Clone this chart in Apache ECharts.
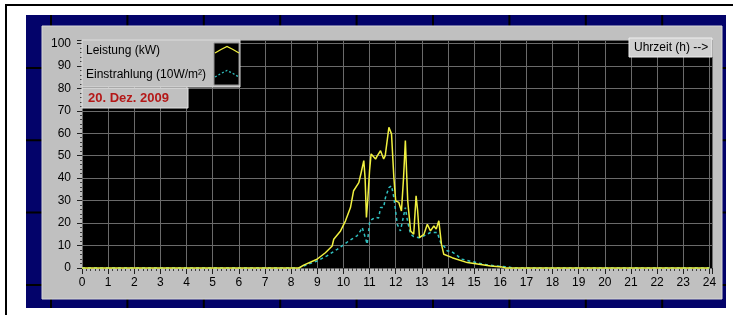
<!DOCTYPE html>
<html>
<head>
<meta charset="utf-8">
<script src="https://cdn.jsdelivr.net/npm/echarts@6/dist/echarts.min.js"></script>
<style>
  html, body { margin: 0; padding: 0; background: #fff; }
  #chart { width: 736px; height: 315px; }
</style>
</head>
<body>
<div id="chart"></div>
<script>
// Leistung (kW)
const leistungZeit = [0, 8.3, 8.48, 8.99, 9.31, 9.57, 9.63, 9.89, 10.08, 10.27, 10.39, 10.59, 10.68, 10.78, 10.83, 10.88, 10.93, 11.0, 11.06, 11.23, 11.3, 11.42, 11.54, 11.6, 11.74, 11.84, 11.93, 12.0, 12.12, 12.22, 12.3, 12.37, 12.46, 12.57, 12.69, 12.78, 12.84, 12.91, 13.08, 13.21, 13.33, 13.46, 13.55, 13.65, 13.75, 13.84, 13.9, 14.16, 14.23, 14.74, 15.25, 15.63, 16.08, 16.2, 24]
const leistungWerte = [0, 0, 1.3, 3.9, 6.8, 9.8, 12.8, 16.5, 21, 26.9, 34.4, 38, 42.5, 47.8, 40, 22.5, 30, 43.3, 50.8, 48.5, 50, 52.2, 48.5, 50, 62.6, 59.7, 40.3, 29.9, 29.2, 25.4, 40, 56.7, 29.9, 16.5, 15, 32.1, 25.4, 13.5, 15, 19.5, 16.5, 18.7, 17.3, 21, 10.6, 6.1, 5.5, 4.6, 3.9, 2.4, 1.6, 0.9, 0.4, 0, 0]

// Einstrahlung (10W/m²)
const einstrahlungZeit = [0, 8.3, 8.5, 8.99, 9.37, 9.76, 10.2, 10.52, 10.65, 10.72, 10.8, 10.91, 11.01, 11.1, 11.23, 11.35, 11.42, 11.54, 11.61, 11.74, 11.84, 11.93, 12.06, 12.18, 12.25, 12.37, 12.45, 12.57, 12.69, 12.89, 13.08, 13.33, 13.59, 13.72, 13.9, 13.97, 14.1, 14.36, 14.5, 14.87, 15.38, 15.82, 16.33, 16.5, 24]
const einstrahlungWerte = [0, 0, 1, 3.1, 5.4, 8.3, 12, 14.3, 16.5, 18, 15, 10.6, 21, 21.7, 22.5, 22.3, 26.9, 27, 31.4, 35.8, 36.6, 31.4, 19.5, 16.5, 16, 26.9, 21, 15, 14, 13.5, 14.3, 15.8, 15.8, 11.3, 9, 7.6, 7.6, 5.5, 4, 3, 1.6, 0.9, 0.4, 0, 0]

const serienNamen = ['Leistung (kW)', 'Einstrahlung (10W/m²)']
const datumText = '20. Dez. 2009'
const achsenText = 'Uhrzeit (h) -->'

// Layout
const plotLeft = 82, plotTop = 40, plotRight = 712, plotBottom = 268
const W = 736, H = 315
const font = 'Liberation Sans'

const chartDom = document.getElementById('chart')
const chart = echarts.init(chartDom)

// dunkle Linien im blauen Rahmen
const rahmenLinien = []
for (let i = 0; i < 9; i++) {
  const x = 51 + i * 76.4
  rahmenLinien.push({ type: 'line', z: -9, shape: { x1: x, y1: 15, x2: x, y2: 308 }, style: { stroke: '#000', lineWidth: 2 } })
}
for (let i = 0; i < 4; i++) {
  const y = 68 + i * 72.3
  rahmenLinien.push({ type: 'line', z: -9, shape: { x1: 26, y1: y, x2: 726, y2: y }, style: { stroke: '#000', lineWidth: 2 } })
}

const option = {
  animation: false,
  backgroundColor: '#fff',
  grid: {
    left: plotLeft,
    top: plotTop,
    right: W - plotRight,
    bottom: H - plotBottom
  },
  xAxis: {
    type: 'value',
    min: 0,
    max: 24.1,
    interval: 1,
    axisLine: { show: false },
    axisTick: { show: true, length: 6, lineStyle: { color: '#202020' } },
    minorTick: { show: true, splitNumber: 6, length: 3, lineStyle: { color: '#404040' } },
    axisLabel: {
      color: '#000', fontFamily: font, fontSize: 12, margin: 9,
      formatter: v => (v <= 24 ? String(v) : '')
    },
    splitLine: { show: true, lineStyle: { color: '#6a6a6a', width: 1 } }
  },
  yAxis: {
    type: 'value',
    min: 0,
    max: 101.5,
    interval: 10,
    offset: 4,
    axisLine: { show: false },
    axisTick: { show: true, length: 5, lineStyle: { color: '#202020' } },
    minorTick: { show: true, splitNumber: 5, length: 2, lineStyle: { color: '#404040' } },
    axisLabel: { color: '#000', fontFamily: font, fontSize: 12, margin: 7 },
    splitLine: { show: true, lineStyle: { color: '#6a6a6a', width: 1 } }
  },
  graphic: [
    // Seite
    { type: 'line', z: -10, shape: { x1: 5, y1: 5, x2: 733, y2: 5 }, style: { stroke: '#000', lineWidth: 2 } },
    { type: 'line', z: -10, shape: { x1: 6, y1: 5, x2: 6, y2: H }, style: { stroke: '#000', lineWidth: 2 } },
    { type: 'rect', z: -10, shape: { x: 26, y: 15, width: 700, height: 293 }, style: { fill: '#03036a' } },
    ...rahmenLinien,
    { type: 'rect', z: -8, shape: { x: 42, y: 26, width: 680, height: 273 }, style: { fill: '#c0c0c0', stroke: '#d8d8d8', lineWidth: 1 } },
    { type: 'rect', z: -7, shape: { x: plotLeft, y: plotTop, width: plotRight - plotLeft, height: plotBottom - plotTop }, style: { fill: '#000' } },

    // Legende
    { type: 'rect', z: 10, shape: { x: 82, y: 40, width: 158, height: 47 }, style: { fill: '#c0c0c0', stroke: '#dcdcdc', lineWidth: 1 } },
    { type: 'text', z: 11, style: { x: 86, y: 51, text: serienNamen[0], fill: '#000', font: '12px ' + font, textVerticalAlign: 'middle' } },
    { type: 'text', z: 11, style: { x: 86, y: 75, text: serienNamen[1], fill: '#000', font: '12px ' + font, textVerticalAlign: 'middle' } },
    { type: 'rect', z: 11, shape: { x: 214, y: 43, width: 25, height: 42 }, style: { fill: '#000', stroke: '#909090', lineWidth: 1 } },
    { type: 'polyline', z: 12, shape: { points: [[215, 53], [221, 49.5], [227, 46.5], [233, 49.5], [239, 53]] }, style: { stroke: '#f0f040', lineWidth: 1.3, fill: null } },
    { type: 'polyline', z: 12, shape: { points: [[215, 77], [221, 73.5], [227, 70.5], [233, 73.5], [239, 77]] }, style: { stroke: '#30c0c0', lineWidth: 1.3, lineDash: [2, 2], fill: null } },

    // Datum
    { type: 'rect', z: 10, shape: { x: 82, y: 88, width: 106, height: 20 }, style: { fill: '#c0c0c0', stroke: '#e4e4e4', lineWidth: 1 } },
    { type: 'text', z: 11, style: { x: 88, y: 98, text: datumText, fill: '#b41818', font: 'bold 13px ' + font, textVerticalAlign: 'middle' } },

    // Uhrzeit
    { type: 'rect', z: 10, shape: { x: 629, y: 38, width: 83, height: 19 }, style: { fill: '#d0d0d0', stroke: '#eeeeee', lineWidth: 1 } },
    { type: 'text', z: 11, style: { x: 634, y: 48, text: achsenText, fill: '#000', font: '12px ' + font, textVerticalAlign: 'middle' } }
  ],
  series: [
    {
      name: serienNamen[1],
      type: 'line',
      data: einstrahlungZeit.map((t, i) => [t, einstrahlungWerte[i]]),
      showSymbol: false,
      clip: false,
      lineStyle: { color: '#30c0c0', width: 1.5, type: [3, 3] },
      z: 3
    },
    {
      name: serienNamen[0],
      type: 'line',
      data: leistungZeit.map((t, i) => [t, leistungWerte[i]]),
      showSymbol: false,
      clip: false,
      lineStyle: { color: '#f0f040', width: 1.5 },
      z: 4
    }
  ]
}

chart.setOption(option)
</script>
</body>
</html>
